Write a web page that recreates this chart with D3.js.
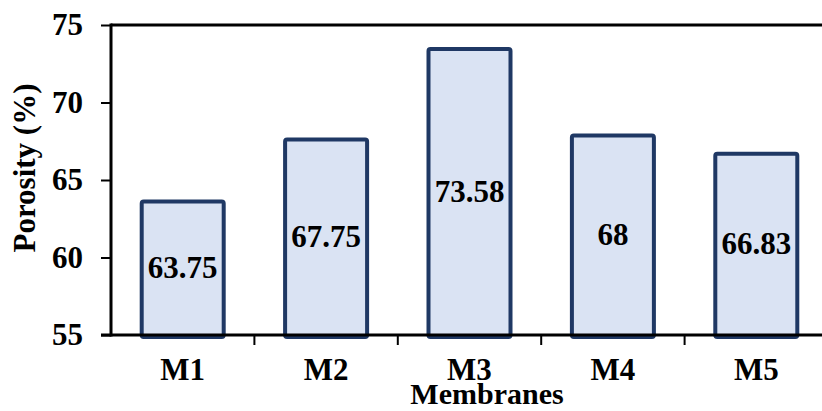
<!DOCTYPE html>
<html>
<head>
<meta charset="utf-8">
<script src="https://cdn.jsdelivr.net/npm/d3@7"></script>
<style>
  html, body { margin: 0; padding: 0; background: #fff; }
  svg { display: block; }
  text { font-family: "Liberation Serif", "Times New Roman", serif; font-weight: bold; fill: #000; }
</style>
</head>
<body>
<svg id="chart" width="822" height="411"></svg>
<script>
// Porosity of each membrane sample
const categories = ["M1", "M2", "M3", "M4", "M5"];
const porosity = [63.75, 67.75, 73.58, 68, 66.83];
const yTicks = [55, 60, 65, 70, 75];

const svg = d3.select("#chart");
const plotLeft = 111, plotRight = 828, plotTop = 25, plotBottom = 335;
const fontSize = 31;

const x = d3.scaleBand().domain(categories).range([plotLeft, plotRight]).padding(0);
const y = d3.scaleLinear().domain([55, 75]).range([plotBottom, plotTop]);

const barOuter = 86, stroke = 4;

// Bars
svg.append("g").selectAll("rect")
  .data(categories)
  .join("rect")
  .attr("x", (d) => x(d) + x.bandwidth() / 2 - barOuter / 2 + stroke / 2)
  .attr("width", barOuter - stroke)
  .attr("y", (d, i) => y(porosity[i]) + stroke / 2)
  .attr("height", (d, i) => plotBottom - y(porosity[i]))
  .attr("rx", 2)
  .attr("fill", "#DAE3F3")
  .attr("stroke", "#1F3864")
  .attr("stroke-width", stroke)
  .attr("stroke-linejoin", "round");

// Value labels centred inside each bar
svg.append("g").selectAll("text")
  .data(categories)
  .join("text")
  .attr("x", (d) => x(d) + x.bandwidth() / 2)
  .attr("y", (d, i) => (y(porosity[i]) + plotBottom) / 2)
  .attr("dy", "0.35em")
  .attr("text-anchor", "middle")
  .attr("font-size", fontSize)
  .text((d, i) => porosity[i]);

// Top frame line
svg.append("line")
  .attr("x1", plotLeft).attr("x2", 822)
  .attr("y1", plotTop).attr("y2", plotTop)
  .attr("stroke", "#000").attr("stroke-width", 3);

// Y axis
const yAxis = svg.append("g")
  .attr("transform", `translate(${plotLeft},0)`)
  .call(d3.axisLeft(y).tickValues(yTicks).tickSize(10).tickPadding(18).tickFormat(d3.format("d")));
yAxis.select(".domain").attr("stroke", "#000").attr("stroke-width", 3)
  .attr("d", `M0,${plotTop - 1.5}V${plotBottom + 1.5}`);
yAxis.selectAll(".tick line").attr("stroke", "#000").attr("stroke-width", 2);
yAxis.selectAll(".tick text")
  .attr("font-size", fontSize)
  .attr("font-family", "Liberation Serif, Times New Roman, serif")
  .attr("font-weight", "bold")
  .attr("fill", "#000");

// X axis with ticks on category boundaries
const xAxisG = svg.append("g");
xAxisG.append("line")
  .attr("x1", plotLeft - 10).attr("x2", 822)
  .attr("y1", plotBottom).attr("y2", plotBottom)
  .attr("stroke", "#000").attr("stroke-width", 3);
xAxisG.selectAll("line.tick")
  .data(categories.slice(1))
  .join("line")
  .attr("class", "tick")
  .attr("x1", (d) => x(d)).attr("x2", (d) => x(d))
  .attr("y1", plotBottom).attr("y2", plotBottom + 10)
  .attr("stroke", "#000").attr("stroke-width", 2);
xAxisG.selectAll("text")
  .data(categories)
  .join("text")
  .attr("x", (d) => x(d) + x.bandwidth() / 2)
  .attr("y", 380)
  .attr("text-anchor", "middle")
  .attr("font-size", fontSize)
  .text((d) => d);

// Axis titles
svg.append("text")
  .attr("x", 487).attr("y", 404)
  .attr("text-anchor", "middle")
  .attr("font-size", 30)
  .text("Membranes");

svg.append("text")
  .attr("transform", "translate(35,168) rotate(-90)")
  .attr("text-anchor", "middle")
  .attr("font-size", fontSize)
  .text("Porosity (%)");
</script>
</body>
</html>
